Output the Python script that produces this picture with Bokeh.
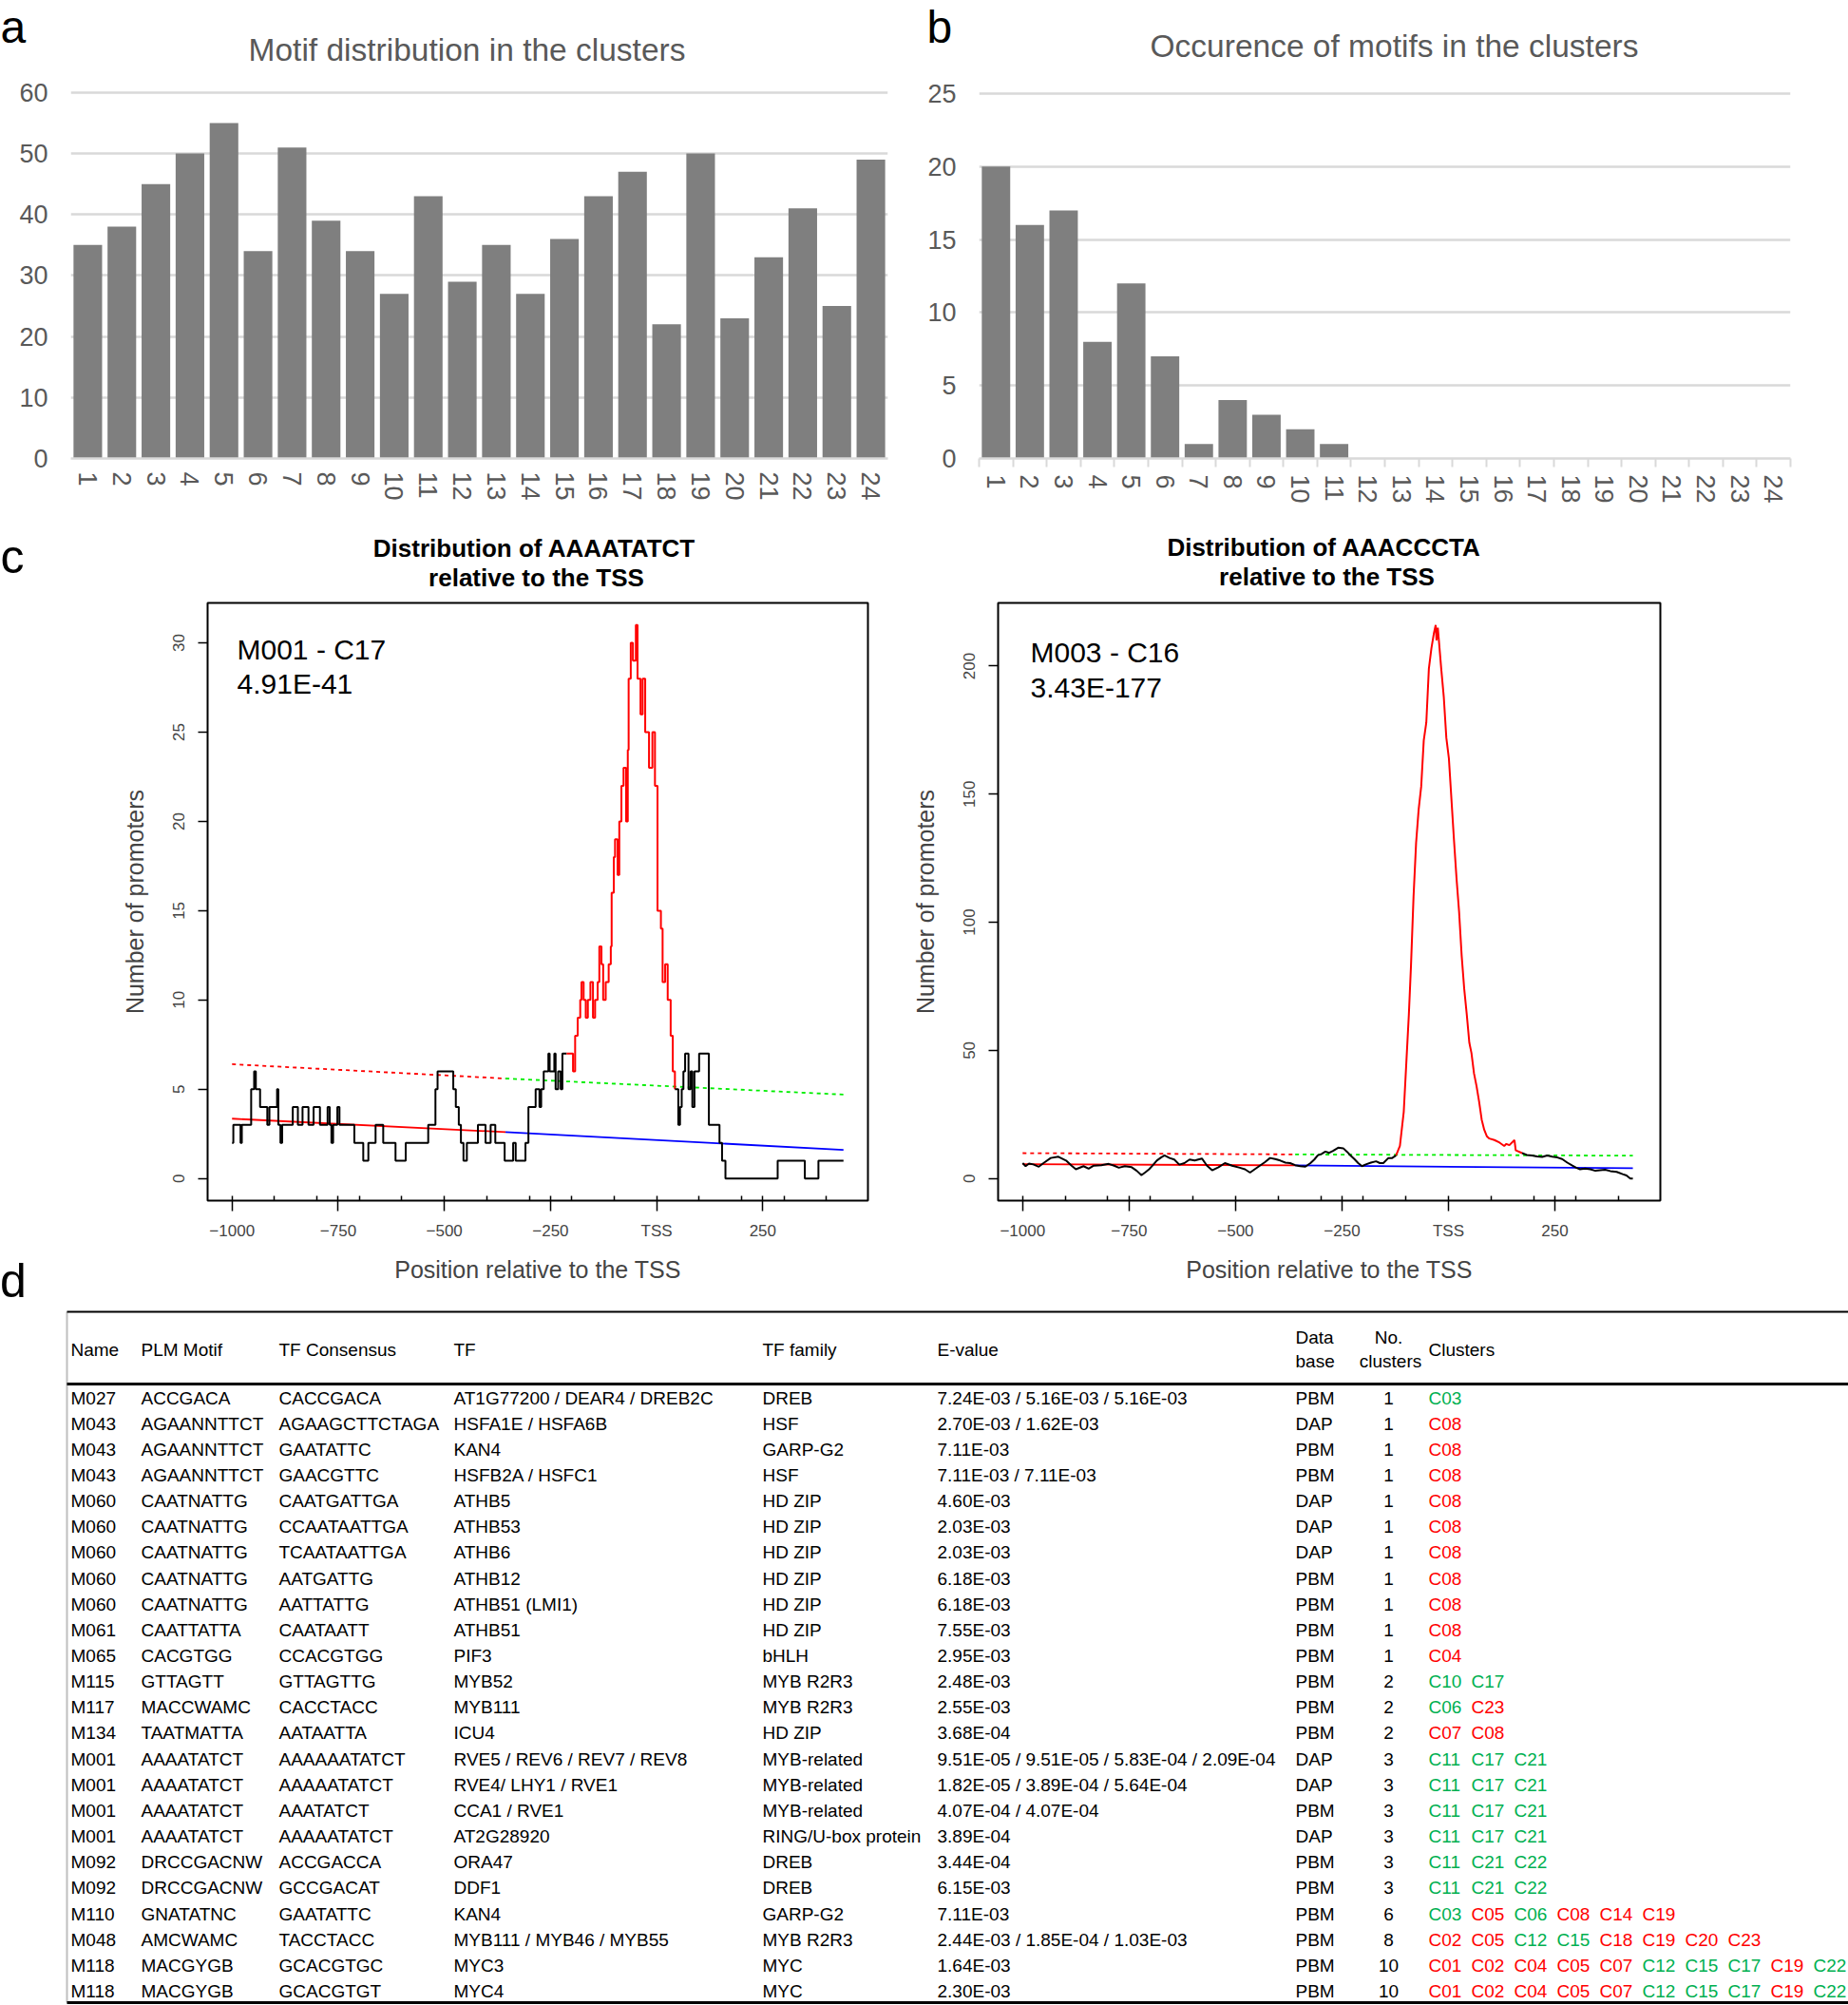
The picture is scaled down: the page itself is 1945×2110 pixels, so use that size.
import numpy as np
from bokeh.plotting import figure
from bokeh.models import Range1d, FixedTicker, Label, Div
from bokeh.layouts import column, row
from bokeh.embed import file_html
from bokeh.resources import INLINE
from bokeh.core.properties import value

FONT = "Liberation Sans"
GREY_TXT = "#595959"
BAR = "#7f7f7f"
GRID = "#d9d9d9"
GREEN = "#00b050"
RED = "#ff0000"

# ---------------- panel a : motifs per cluster ----------------
cluster_ids = list(range(1, 25))
motifs_per_cluster = [35, 38, 45, 50, 55, 34, 51, 39, 34, 27, 43, 29,
                      35, 27, 36, 43, 47, 22, 50, 23, 33, 41, 25, 49]
a_yticks = [0, 10, 20, 30, 40, 50, 60]

# ---------------- panel b : occurrence of motifs ----------------
occurrence_ids = list(range(1, 25))
motifs_by_occurrence = [20, 16, 17, 8, 12, 7, 1, 4, 3, 2, 1, 0,
                        0, 0, 0, 0, 0, 0, 0, 0, 0, 0, 0, 0]
b_yticks = [0, 5, 10, 15, 20, 25]

# ---------------- panel c : positional distributions ----------------
tss_major_ticks = [-1000, -750, -500, -250, 0, 250]
tss_minor_ticks = [-900, -800, -700, -600, -400, -300, -200, -100, 100, 200, 300, 400]
tss_labels = {-1000: "\u22121000", -750: "\u2212750", -500: "\u2212500",
              -250: "\u2212250", 0: "TSS", 250: "250"}
left_yticks = [0, 5, 10, 15, 20, 25, 30]
right_yticks = [0, 50, 100, 150, 200]

# M001 - C17 (AAAATATCT): step counts (value holds from x onward)
left_black_pre = [(-1000, 2), (-997, 3), (-980, 2), (-977, 3), (-955, 5), (-948, 6), (-944, 5),
                  (-934, 4), (-917, 3), (-912, 4), (-894, 5), (-891, 3), (-886, 2), (-882, 3),
                  (-857, 4), (-845, 3), (-834, 4), (-820, 3), (-808, 4), (-793, 3), (-775, 4),
                  (-770, 3), (-766, 2), (-762, 3), (-752, 4), (-747, 3), (-712, 2), (-691, 1),
                  (-679, 2), (-662, 3), (-644, 2), (-615, 1), (-591, 2), (-538, 3), (-521, 5),
                  (-516, 6), (-479, 5), (-473, 4), (-466, 3), (-461, 2), (-455, 1), (-447, 2),
                  (-421, 3), (-403, 2), (-391, 3), (-380, 2), (-358, 1), (-338, 2), (-332, 1),
                  (-309, 2), (-302, 4), (-285, 5), (-276, 4), (-272, 5), (-266, 6), (-255, 7),
                  (-252, 6), (-241, 7), (-238, 5), (-232, 6), (-226, 5), (-222, 7), (-212, 7)]
left_red_peak = [(-212, 7), (-197, 6), (-192, 8), (-186, 9), (-180, 10), (-177, 11), (-172, 10),
                 (-167, 9), (-162, 10), (-156, 11), (-150, 9), (-145, 10), (-139, 11), (-135, 13),
                 (-130, 12), (-126, 10), (-120, 11), (-113, 12), (-108, 13), (-106, 16), (-101, 18),
                 (-98, 19), (-92, 17), (-88, 20), (-83, 22), (-78, 23), (-72, 20), (-68, 24),
                 (-66, 28), (-61, 30), (-56, 29), (-49, 31), (-45, 28), (-38, 26), (-33, 28),
                 (-27, 25), (-18, 23), (-10, 25), (-4, 22), (2, 15), (10, 14), (14, 11), (20, 12),
                 (26, 10), (33, 8), (38, 6), (43, 5)]
left_black_post = [(43, 5), (51, 3), (55, 4), (59, 5), (63, 6), (67, 7), (75, 5), (80, 6), (84, 4),
                   (89, 6), (100, 7), (123, 3), (148, 2), (154, 1), (162, 0), (285, 1), (349, 0),
                   (381, 1), (440, 1)]
left_upper_red = [(-1000, 6.4), (-356, 5.6)]
left_upper_green = [(-356, 5.6), (440, 4.7)]
left_lower_red = [(-1000, 3.35), (-356, 2.6)]
left_lower_blue = [(-356, 2.6), (440, 1.6)]

# M003 - C16 (AAACCCTA)
right_black_pre = [(-1000, 6.0), (-993, 4.8), (-985, 5.8), (-975, 5.5), (-962, 4.6), (-951, 6.0),
                   (-934, 8.0), (-916, 8.5), (-898, 7.0), (-885, 5.0), (-875, 3.6), (-857, 4.8),
                   (-845, 3.8), (-833, 5.0), (-815, 5.2), (-798, 5.7), (-785, 5.0), (-774, 4.2),
                   (-760, 4.8), (-744, 4.4), (-732, 3.0), (-721, 1.3), (-712, 2.4), (-703, 3.6),
                   (-694, 5.2), (-685, 7.0), (-675, 8.2), (-667, 9.0), (-655, 8.0), (-644, 7.4),
                   (-632, 5.4), (-620, 6.0), (-608, 7.4), (-596, 7.0), (-579, 7.8), (-567, 5.0),
                   (-555, 3.2), (-540, 4.4), (-525, 6.0), (-508, 5.0), (-490, 4.2), (-478, 3.6),
                   (-466, 2.3), (-455, 3.6), (-443, 5.0), (-431, 6.4), (-419, 8.0), (-407, 7.6),
                   (-395, 7.0), (-383, 6.2), (-372, 6.0), (-360, 5.2), (-348, 4.8), (-336, 4.6),
                   (-324, 6.0), (-315, 7.4), (-307, 9.0), (-298, 9.6), (-289, 10.5), (-280, 10.0),
                   (-271, 10.8), (-259, 12.0), (-247, 11.8), (-238, 10.4), (-230, 9.0), (-221, 7.6),
                   (-212, 6.0), (-203, 4.8), (-194, 5.5), (-182, 6.2), (-170, 6.7), (-161, 6.0),
                   (-153, 6.0), (-141, 8.0), (-132, 8.0), (-123, 9.0)]
right_red_peak = [(-123, 9), (-114, 12.7), (-105, 26), (-99, 45), (-93, 64), (-88, 83), (-82, 110),
                  (-76, 131), (-70, 144), (-64, 153), (-58, 171), (-52, 178), (-46, 199), (-40, 207),
                  (-34, 213), (-30, 216), (-28, 210), (-25, 215), (-22, 209), (-17, 199), (-11, 188),
                  (-5, 172), (1, 164), (7, 148), (13, 132), (19, 117), (25, 104), (31, 87), (37, 74),
                  (43, 64), (49, 53), (54, 49), (60, 41), (66, 36), (72, 30), (78, 23), (84, 19),
                  (90, 16.5), (96, 15.6), (108, 15), (120, 14), (131, 12.7), (136, 13.5), (143, 13),
                  (155, 15), (158, 11), (161, 10.8), (173, 9.9)]
right_black_post = [(173, 9.9), (184, 9.2), (196, 9.0), (208, 8.6), (220, 8.4), (232, 9.0),
                    (244, 8.5), (256, 8.2), (267, 7.6), (279, 6.2), (291, 5.0), (300, 4.2),
                    (309, 3.6), (321, 3.9), (333, 3.6), (345, 3.0), (356, 3.2), (368, 3.4),
                    (380, 2.9), (395, 2.6), (409, 1.7), (418, 1.2), (427, 0.0), (433, 0.0)]
right_upper_red = [(-1000, 9.9), (-360, 9.4)]
right_upper_green = [(-360, 9.4), (433, 8.9)]
right_lower_red = [(-1000, 5.6), (-360, 5.1)]
right_lower_blue = [(-360, 5.1), (433, 4.0)]

# ---------------- panel d : table ----------------
tbl_header = ["Name", "PLM Motif", "TF Consensus", "TF", "TF family", "E-value"]
tbl_name = ["M027", "M043", "M043", "M043", "M060", "M060", "M060", "M060", "M060", "M061",
            "M065", "M115", "M117", "M134", "M001", "M001", "M001", "M001", "M092", "M092",
            "M110", "M048", "M118", "M118"]
tbl_plm = ["ACCGACA", "AGAANNTTCT", "AGAANNTTCT", "AGAANNTTCT", "CAATNATTG", "CAATNATTG",
           "CAATNATTG", "CAATNATTG", "CAATNATTG", "CAATTATTA", "CACGTGG", "GTTAGTT",
           "MACCWAMC", "TAATMATTA", "AAAATATCT", "AAAATATCT", "AAAATATCT", "AAAATATCT",
           "DRCCGACNW", "DRCCGACNW", "GNATATNC", "AMCWAMC", "MACGYGB", "MACGYGB"]
tbl_consensus = ["CACCGACA", "AGAAGCTTCTAGA", "GAATATTC", "GAACGTTC", "CAATGATTGA", "CCAATAATTGA",
                 "TCAATAATTGA", "AATGATTG", "AATTATTG", "CAATAATT", "CCACGTGG", "GTTAGTTG",
                 "CACCTACC", "AATAATTA", "AAAAAATATCT", "AAAAATATCT", "AAATATCT", "AAAAATATCT",
                 "ACCGACCA", "GCCGACAT", "GAATATTC", "TACCTACC", "GCACGTGC", "GCACGTGT"]
tbl_tf = ["AT1G77200 / DEAR4 / DREB2C", "HSFA1E / HSFA6B", "KAN4", "HSFB2A / HSFC1", "ATHB5",
          "ATHB53", "ATHB6", "ATHB12", "ATHB51 (LMI1)", "ATHB51", "PIF3", "MYB52", "MYB111",
          "ICU4", "RVE5 / REV6 / REV7 / REV8", "RVE4/ LHY1 / RVE1", "CCA1 / RVE1", "AT2G28920",
          "ORA47", "DDF1", "KAN4", "MYB111 / MYB46 / MYB55", "MYC3", "MYC4"]
tbl_family = ["DREB", "HSF", "GARP-G2", "HSF", "HD ZIP", "HD ZIP", "HD ZIP", "HD ZIP", "HD ZIP",
              "HD ZIP", "bHLH", "MYB R2R3", "MYB R2R3", "HD ZIP", "MYB-related", "MYB-related",
              "MYB-related", "RING/U-box protein", "DREB", "DREB", "GARP-G2", "MYB R2R3", "MYC", "MYC"]
tbl_evalue = ["7.24E-03 / 5.16E-03 / 5.16E-03", "2.70E-03 / 1.62E-03", "7.11E-03",
              "7.11E-03 / 7.11E-03", "4.60E-03", "2.03E-03", "2.03E-03", "6.18E-03", "6.18E-03",
              "7.55E-03", "2.95E-03", "2.48E-03", "2.55E-03", "3.68E-04",
              "9.51E-05 / 9.51E-05 / 5.83E-04 / 2.09E-04", "1.82E-05 / 3.89E-04 / 5.64E-04",
              "4.07E-04 /  4.07E-04", "3.89E-04", "3.44E-04", "6.15E-03", "7.11E-03",
              "2.44E-03 / 1.85E-04 / 1.03E-03", "1.64E-03", "2.30E-03"]
tbl_database = ["PBM", "DAP", "PBM", "PBM", "DAP", "DAP", "DAP", "PBM", "PBM", "PBM", "PBM", "PBM",
                "PBM", "PBM", "DAP", "DAP", "PBM", "DAP", "PBM", "PBM", "PBM", "PBM", "PBM", "PBM"]
tbl_n_clusters = [1, 1, 1, 1, 1, 1, 1, 1, 1, 1, 1, 2, 2, 2, 3, 3, 3, 3, 3, 3, 6, 8, 10, 10]
tbl_clusters = ["C03", "C08", "C08", "C08", "C08", "C08", "C08", "C08", "C08", "C08", "C04",
                "C10 C17", "C06 C23", "C07 C08", "C11 C17 C21", "C11 C17 C21", "C11 C17 C21",
                "C11 C17 C21", "C11 C21 C22", "C11 C21 C22", "C03 C05 C06 C08 C14 C19",
                "C02 C05 C12 C15 C18 C19 C20 C23",
                "C01 C02 C04 C05 C07 C12 C15 C17 C19 C22",
                "C01 C02 C04 C05 C07 C12 C15 C17 C19 C22"]
green_clusters = {"C03", "C06", "C10", "C11", "C12", "C15", "C17", "C21", "C22"}


def strip(width, height):
    """Blank canvas (no axes) whose coordinates run left->right, top->bottom in pixels."""
    s = figure(width=width, height=height, x_range=Range1d(0, width), y_range=Range1d(height, 0),
               toolbar_location=None, output_backend="svg", x_axis_location=None,
               y_axis_location=None, min_border=0, min_border_left=0, min_border_right=0,
               min_border_top=0, min_border_bottom=0)
    s.outline_line_color = None
    s.xgrid.visible = False
    s.ygrid.visible = False
    return s


def put(p, x, y, text, size, color="black", align="left", style="normal"):
    p.text(x=[x], y=[y], text=[text], text_font=value(FONT), text_font_size=size,
           text_color=color, text_align=align, text_baseline="middle", text_font_style=style)


def lbl(p, x, y, text, size, color="black"):
    p.add_layout(Label(x=x, y=y, x_units="screen", y_units="screen", text=text,
                       text_font=FONT, text_font_size=size, text_color=color,
                       text_align="left", text_baseline="middle"))


def excel_style(p, xticks, yticks, minor_x=None):
    p.outline_line_color = None
    p.xgrid.visible = False
    p.ygrid.ticker = FixedTicker(ticks=yticks)
    p.ygrid.grid_line_color = GRID
    p.ygrid.grid_line_width = 2.5
    xa = p.xaxis[0]
    xa.ticker = FixedTicker(ticks=xticks, minor_ticks=minor_x or [])
    xa.major_label_orientation = "vertical"
    xa.major_tick_line_color = None
    xa.axis_line_color = GRID
    xa.axis_line_width = 2.5
    xa.major_label_text_font = FONT
    xa.major_label_text_font_size = "27px"
    xa.major_label_text_color = GREY_TXT
    xa.major_label_standoff = 8
    if minor_x:
        xa.minor_tick_line_color = GRID
        xa.minor_tick_line_width = 2
        xa.minor_tick_in = 0
        xa.minor_tick_out = 9
    else:
        xa.minor_tick_line_color = None
    ya = p.yaxis[0]
    ya.ticker = FixedTicker(ticks=yticks)
    ya.axis_line_color = None
    ya.major_tick_line_color = None
    ya.minor_tick_line_color = None
    ya.major_label_text_font = FONT
    ya.major_label_text_font_size = "27px"
    ya.major_label_text_color = GREY_TXT
    ya.major_label_standoff = 18


# ---- header strip of row 1 (panel letters a, b and titles) ----
hdr1 = strip(1945, 80)
put(hdr1, 0, 27.5, "a", "48px")
put(hdr1, 975, 27.5, "b", "48px")
put(hdr1, 491, 52, "Motif distribution in the clusters", "33.5px", GREY_TXT, "center")
put(hdr1, 1467, 48, "Occurence of motifs in the clusters", "33.5px", GREY_TXT, "center")

# ---- panel a ----
fa = figure(width=955, height=465, x_range=Range1d(0.5, 24.5), y_range=Range1d(0, 60.3),
            toolbar_location=None, output_backend="svg",
            min_border_left=74, min_border_right=21, min_border_top=14, min_border_bottom=63)
fa.vbar(x=cluster_ids, top=motifs_per_cluster, width=0.84, fill_color=BAR, line_color=None)
excel_style(fa, cluster_ids, a_yticks)

# ---- panel b ----
fb = figure(width=990, height=465, x_range=Range1d(0.5, 24.5), y_range=Range1d(0, 25.2),
            toolbar_location=None, output_backend="svg",
            min_border_left=75, min_border_right=61, min_border_top=15, min_border_bottom=62)
fb.vbar(x=occurrence_ids, top=motifs_by_occurrence, width=0.84, fill_color=BAR, line_color=None)
excel_style(fb, occurrence_ids, b_yticks, [i + 0.5 for i in range(0, 25)])


def r_style(p, yticks):
    p.outline_line_color = "black"
    p.outline_line_width = 2
    p.xgrid.visible = False
    p.ygrid.visible = False
    xa = p.xaxis[0]
    xa.ticker = FixedTicker(ticks=tss_major_ticks, minor_ticks=tss_minor_ticks)
    xa.major_label_overrides = tss_labels
    xa.axis_line_color = None
    xa.major_tick_in = 5
    xa.major_tick_out = 11
    xa.minor_tick_in = 5
    xa.minor_tick_out = 0
    xa.major_tick_line_width = 1.5
    xa.minor_tick_line_width = 1.5
    xa.major_label_text_font = FONT
    xa.major_label_text_font_size = "17px"
    xa.major_label_standoff = 11
    xa.axis_label = "Position relative to the TSS"
    xa.axis_label_text_font = FONT
    xa.axis_label_text_font_size = "25px"
    xa.axis_label_text_font_style = "normal"
    xa.axis_label_standoff = 14
    ya = p.yaxis[0]
    ya.ticker = FixedTicker(ticks=yticks)
    ya.axis_line_color = None
    ya.major_tick_in = 0
    ya.major_tick_out = 10
    ya.major_tick_line_width = 1.5
    ya.minor_tick_line_color = None
    ya.major_label_orientation = "vertical"
    ya.major_label_text_font = FONT
    ya.major_label_text_font_size = "17px"
    ya.major_label_standoff = 14
    ya.axis_label = "Number of promoters"
    ya.axis_label_text_font = FONT
    ya.axis_label_text_font_size = "25px"
    ya.axis_label_text_font_style = "normal"
    ya.axis_label_standoff = 24


def xy(pairs):
    return [a for a, _ in pairs], [b for _, b in pairs]


# ---- header strip of row 2 (panel letter c and plot titles) ----
hdr2 = strip(1945, 80)
put(hdr2, 0, 40, "c", "50px")
put(hdr2, 562, 31, "Distribution of AAAATATCT", "26px", "black", "center", style="bold")
put(hdr2, 564, 62, "relative to the TSS", "26px", "black", "center", style="bold")
put(hdr2, 1393, 30, "Distribution of AAACCCTA", "26px", "black", "center", style="bold")
put(hdr2, 1396, 61, "relative to the TSS", "26px", "black", "center", style="bold")

# ---- narrow box holding panel letter d ----
dbox = Div(text="d", width=40, height=747, margin=0,
           styles={"font-family": "Liberation Sans", "font-size": "50px", "line-height": "57px",
                   "padding-top": "695px", "box-sizing": "border-box", "color": "black",
                   "overflow": "visible"})

# ---- panel c left ----
fcl = figure(width=915, height=747, x_range=Range1d(-1057.6, 497.6), y_range=Range1d(-1.24, 32.24),
             toolbar_location=None, output_backend="svg",
             min_border_left=178, min_border_right=42, min_border_top=9, min_border_bottom=108)
r_style(fcl, left_yticks)
for pairs, col in [(left_upper_red, "red"), (left_upper_green, "#00ee00")]:
    xs, ys = xy(pairs)
    fcl.line(xs, ys, line_color=col, line_width=1.8, line_dash="4 4")
for pairs, col in [(left_lower_red, "red"), (left_lower_blue, "blue")]:
    xs, ys = xy(pairs)
    fcl.line(xs, ys, line_color=col, line_width=1.8)
for pairs, col in [(left_black_pre, "black"), (left_red_peak, "red"), (left_black_post, "black")]:
    xs, ys = xy(pairs)
    fcl.step(xs, ys, mode="after", line_color=col, line_width=2)
lbl(fcl, 31, 580, "M001 - C17", "30px")
lbl(fcl, 31, 544, "4.91E-41", "30px")

# ---- panel c right ----
fcr = figure(width=990, height=747, x_range=Range1d(-1057.6, 497.6), y_range=Range1d(-8.64, 224.64),
             toolbar_location=None, output_backend="svg",
             min_border_left=95, min_border_right=198, min_border_top=6, min_border_bottom=109)
r_style(fcr, right_yticks)
for pairs, col in [(right_upper_red, "red"), (right_upper_green, "#00ee00")]:
    xs, ys = xy(pairs)
    fcr.line(xs, ys, line_color=col, line_width=1.8, line_dash="4 4")
for pairs, col in [(right_lower_red, "red"), (right_lower_blue, "blue")]:
    xs, ys = xy(pairs)
    fcr.line(xs, ys, line_color=col, line_width=1.8)
for pairs, col in [(right_black_pre, "black"), (right_red_peak, "red"), (right_black_post, "black")]:
    xs, ys = xy(pairs)
    fcr.line(xs, ys, line_color=col, line_width=2)
lbl(fcr, 34, 577, "M003 - C16", "30px")
lbl(fcr, 34, 540, "3.43E-177", "30px")

# ---- panel d table ----
ROW0 = 1470.5
STEP = 27.15
ft = figure(width=1945, height=738, x_range=Range1d(0, 1945),
            y_range=Range1d((2110 - ROW0) / STEP, (1372 - ROW0) / STEP),
            toolbar_location=None, output_backend="svg",
            x_axis_location=None, y_axis_location=None,
            min_border=0, min_border_left=0, min_border_right=0, min_border_top=0, min_border_bottom=0)
ft.outline_line_color = None
ft.xgrid.visible = False
ft.ygrid.visible = False

col_x = [74, 148, 293, 477, 802, 986]
rows = list(range(len(tbl_name)))
TS = "19px"
y_head = (1420 - ROW0) / STEP
y_head1 = (1407 - ROW0) / STEP
y_head2 = (1432 - ROW0) / STEP
y_top = (1380 - ROW0) / STEP
y_hline = (1456 - ROW0) / STEP
y_bottom = (2107 - ROW0) / STEP

ft.segment(x0=[70], y0=[y_top], x1=[70], y1=[y_bottom], line_color="#bfbfbf", line_width=2)
ft.segment(x0=[70], y0=[y_top], x1=[1945], y1=[y_top], line_color="black", line_width=2)
ft.segment(x0=[70], y0=[y_hline], x1=[1945], y1=[y_hline], line_color="black", line_width=3)
ft.segment(x0=[70], y0=[y_bottom], x1=[1945], y1=[y_bottom], line_color="black", line_width=3)

tkw = dict(text_font=value(FONT), text_font_size=TS, text_baseline="middle", text_color="black")
ft.text(x=col_x, y=[y_head] * len(col_x), text=tbl_header, text_align="left", **tkw)
ft.text(x=[1363, 1363], y=[y_head1, y_head2], text=["Data", "base"], text_align="left", **tkw)
ft.text(x=[1461, 1463], y=[y_head1, y_head2], text=["No.", "clusters"], text_align="center", **tkw)
ft.text(x=[1503], y=[y_head], text=["Clusters"], text_align="left", **tkw)

for cx, vals in zip(col_x + [1363], [tbl_name, tbl_plm, tbl_consensus, tbl_tf, tbl_family,
                                     tbl_evalue, tbl_database]):
    ft.text(x=[cx] * len(vals), y=rows, text=vals, text_align="left", **tkw)
ft.text(x=[1461] * len(rows), y=rows, text=[str(n) for n in tbl_n_clusters], text_align="center", **tkw)

cx_list, cy_list, ct_list, cc_list = [], [], [], []
for r, s in enumerate(tbl_clusters):
    for k, tok in enumerate(s.split()):
        cx_list.append(1503 + 45 * k)
        cy_list.append(r)
        ct_list.append(tok)
        cc_list.append(GREEN if tok in green_clusters else RED)
ft.text(x=cx_list, y=cy_list, text=ct_list, text_color=cc_list, text_align="left",
        text_font=value(FONT), text_font_size=TS, text_baseline="middle")

layout = column(hdr1, row(fa, fb), hdr2, row(dbox, fcl, fcr), ft)
open("out.html", "w").write(file_html(layout, INLINE))
